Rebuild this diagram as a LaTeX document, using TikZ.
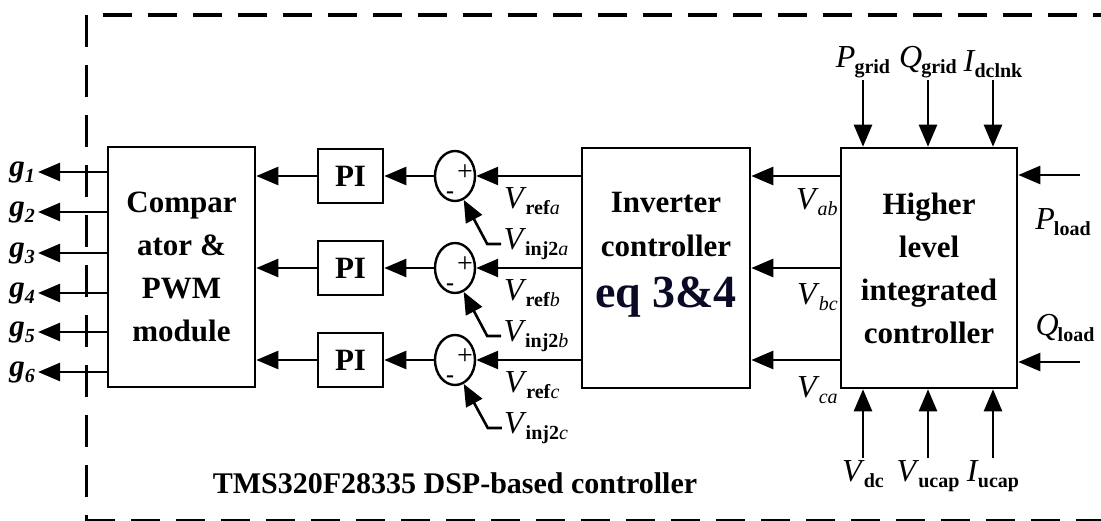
\documentclass[tikz,border=0pt]{standalone}
\usepackage{fontspec}
\setmainfont{Liberation Serif}
\usetikzlibrary{arrows.meta,shapes.geometric}
\definecolor{eqnavy}{RGB}{10,10,38}
\newcommand\lsub[1]{\raisebox{-6pt}{\fontsize{20}{20}\selectfont #1}}
\newcommand\sgl[2]{\textit{#1}\kern-1pt\lsub{#2}}

\begin{document}
\begin{tikzpicture}[x=1pt, y=-1pt, line width=2.6pt,
  blk/.style={draw, line width=2.6pt, inner sep=0pt, align=center, font=\bfseries\fontsize{31}{43}\selectfont},
  sumnode/.style={draw, ellipse, line width=2.4pt, minimum width=40pt, minimum height=50pt, inner sep=0pt},
  sig/.style={-{Triangle[length=22pt,width=18pt]}},
  lbl/.style={inner sep=1pt, font=\fontsize{32}{32}\selectfont},
  brd/.style={line width=4pt, dash pattern=on 29pt off 16pt}]
\useasboundingbox (0,0) rectangle (1101,521);

% DSP border
\draw [brd] (103,15) -- (1101,15);
\draw [line width=3pt, dash pattern=on 32pt off 18pt] (86,15) -- (86,521);
\draw [brd] (86,521) -- (1101,521);
\node [font=\bfseries\fontsize{30}{30}\selectfont] (dsp) at (455,483) {TMS320F28335 DSP-based controller};

% Blocks
\node [blk, minimum width=147pt, minimum height=240pt] (cmp) at (181.5,267) {Compar\\ator \&\\PWM\\module};
\node [blk, minimum width=168pt, minimum height=240pt] (inv) at (666,268) {};
\node [font=\bfseries\fontsize{31}{44}\selectfont, align=center] (invtxt) at (666,225) {Inverter\\controller};
\node [font=\bfseries\fontsize{46}{46}\selectfont, text=eqnavy] (eq) at (666,297) {eq 3\&4};
\node [blk, minimum width=176pt, minimum height=240pt] (hlc) at (929,268) {Higher\\level\\integrated\\controller};

% Three phases: PI loops
\foreach \i/\y/\ph in {1/176/a, 2/268/b, 3/360/c} {
  \node [blk, minimum width=65pt, minimum height=54pt] (pi\i) at (350.5,\y) {PI};
  \node [sumnode] (s\i) at (455,\y) {};
  \node [font=\fontsize{28}{28}\selectfont, inner sep=0pt] (pl\i) at (465,\y-3) {+};
  \node [font=\bfseries\fontsize{24}{24}\selectfont, inner sep=0pt] (mn\i) at (450,\y+19) {-};
  \node [lbl] (ref\i) at (532,\y+25) {\sgl{V}{\textbf{ref}\textit{\ph}}};
  \node [lbl] (inj\i) at (536,\y+68) {\sgl{V}{\textbf{inj2}\textit{\ph}}};
  \draw [sig] (inv.west |- s\i) -- (s\i.east);
  \draw [sig] (s\i.west) -- (pi\i.east);
  \draw [sig] (pi\i.west) -- (cmp.east |- pi\i);
  \draw [sig] (hlc.west |- s\i) -- (inv.east |- s\i);
  \draw [sig] (inj\i.west) -- ++(-14,0) -- (s\i.-70);
}

% Line voltages
\node [lbl, anchor=east] (vab) at (840,202) {\sgl{V}{\textit{ab}}};
\node [lbl, anchor=east] (vbc) at (840,297) {\sgl{V}{\textit{bc}}};
\node [lbl, anchor=east] (vca) at (840,390) {\sgl{V}{\textit{ca}}};

% Gate signals
\foreach \k/\y in {1/172, 2/212, 3/253, 4/293, 5/332, 6/372} {
  \node [inner sep=2pt, font=\bfseries\itshape\fontsize{31}{31}\selectfont] (g\k) at (22,\y) {g\lsub{\k}};
  \draw [sig] (cmp.west |- g\k) -- (g\k.east);
}

% Inputs to higher level controller
\node [lbl, anchor=south] (pg) at (863,80) {\sgl{P}{\textbf{grid}}};
\node [lbl, anchor=south] (qg) at (928,80) {\sgl{Q}{\textbf{grid}}};
\node [lbl, anchor=south] (idc) at (993,80) {\sgl{I}{\textbf{dclnk}}};
\draw [sig] (pg.south) -- (pg.south |- hlc.north);
\draw [sig] (qg.south) -- (qg.south |- hlc.north);
\draw [sig] (idc.south) -- (idc.south |- hlc.north);

\node [lbl, anchor=north] (vdc) at (863,458) {\sgl{V}{\textbf{dc}}};
\node [lbl, anchor=north] (vuc) at (928,458) {\sgl{V}{\textbf{ucap}}};
\node [lbl, anchor=north] (iuc) at (993,458) {\sgl{I}{\textbf{ucap}}};
\draw [sig] (vdc.north) -- (vdc.north |- hlc.south);
\draw [sig] (vuc.north) -- (vuc.north |- hlc.south);
\draw [sig] (iuc.north) -- (iuc.north |- hlc.south);

\coordinate (pin) at (1080,175);
\coordinate (qin) at (1080,362);
\draw [sig] (pin) -- (hlc.east |- pin);
\draw [sig] (qin) -- (hlc.east |- qin);
\node [lbl] (pld) at (1063,222) {\sgl{P}{\textbf{load}}};
\node [lbl] (qld) at (1065,328) {\sgl{Q}{\textbf{load}}};
\end{tikzpicture}
\end{document}
